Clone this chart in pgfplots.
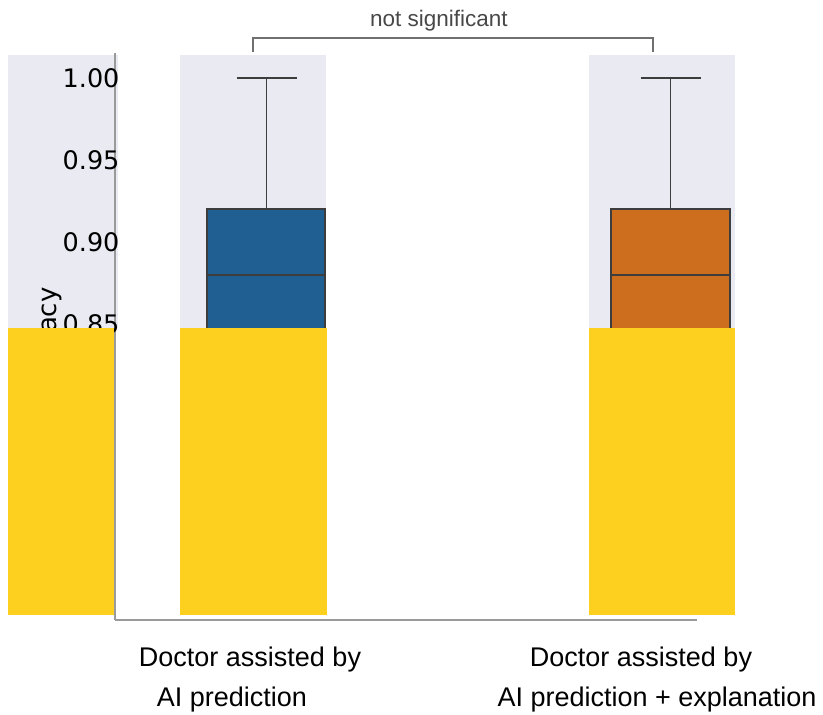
\documentclass[border=0pt]{standalone}
\usepackage{pgfplots}
\pgfplotsset{compat=1.18}
\usepackage{fontspec}
\setmainfont{Liberation Sans}
\newfontfamily\dejavu{DejaVu Sans}
\definecolor{bgstrip}{HTML}{EAEAF2}
\definecolor{yellowc}{HTML}{FDCF1E}
\definecolor{blueb}{HTML}{1F5F91}
\definecolor{orangeb}{HTML}{CD6E1E}
\definecolor{edgec}{HTML}{3D3D3D}
\definecolor{spine}{HTML}{9A9A9A}
\definecolor{bracketc}{HTML}{707070}
\definecolor{textgray}{HTML}{484848}
\begin{document}
\begin{tikzpicture}
\begin{axis}[
  at={(115pt,-620pt)}, anchor=south west,
  scale only axis, width=582pt, height=567pt,
  xmin=115, xmax=697, ymin=66.9512, ymax=101.5244,
  set layers, clip=false,
  axis lines=left,
  axis line style={-, draw=spine, line width=1.5pt},
  major tick length=0pt,
  ytick={85,90,95,100},
  yticklabels={0.85,0.90,0.95,1.00},
  yticklabel style={font=\dejavu\fontsize{25.5}{30}\selectfont, xshift=8pt},
  xtick={241,649},
  xticklabels={{\hspace*{18pt}Doctor assisted by\\AI prediction\hspace*{18pt}},{Doctor assisted by\hspace*{16pt}\\\hspace*{16pt}AI prediction + explanation}},
  xticklabel style={font=\fontsize{27}{40}\selectfont, align=center, inner sep=0pt, yshift=-27pt},
  ylabel={Accuracy},
  every axis y label/.style={at={(axis description cs:-0.0997,0.482)}, rotate=90, anchor=base, font=\dejavu\fontsize{26}{30}\selectfont},
]
% background strips
\addplot[fill=bgstrip, draw=none, mark=none, on layer=axis background] coordinates {(8,84.7561) (118,84.7561) (118,101.4024) (8,101.4024)};
\addplot[fill=bgstrip, draw=none, mark=none, on layer=axis background] coordinates {(180,84.7561) (326,84.7561) (326,101.4024) (180,101.4024)};
\addplot[fill=bgstrip, draw=none, mark=none, on layer=axis background] coordinates {(589,84.7561) (735,84.7561) (735,101.4024) (589,101.4024)};
% box 1: Doctor assisted by AI prediction (q1=0.80, median=0.88, q3=0.92, whiskers 0.72/1.00)
\addplot[fill=blueb, draw=edgec, line width=1.5pt, mark=none, line join=miter] coordinates {(207,80) (325,80) (325,92) (207,92) (207,80)};
\addplot[draw=edgec, line width=1.5pt, mark=none] coordinates {(207,88) (325,88)};
\addplot[draw=edgec, line width=1.5pt, mark=none] coordinates {(266.5,92) (266.5,100)};
\addplot[draw=edgec, line width=1.5pt, mark=none] coordinates {(236.5,100) (296.5,100)};
\addplot[draw=edgec, line width=1.5pt, mark=none] coordinates {(266.5,80) (266.5,72)};
\addplot[draw=edgec, line width=1.5pt, mark=none] coordinates {(236.5,72) (296.5,72)};
% box 2: Doctor assisted by AI prediction + explanation
\addplot[fill=orangeb, draw=edgec, line width=1.5pt, mark=none, line join=miter] coordinates {(611,80) (730,80) (730,92) (611,92) (611,80)};
\addplot[draw=edgec, line width=1.5pt, mark=none] coordinates {(611,88) (730,88)};
\addplot[draw=edgec, line width=1.5pt, mark=none] coordinates {(670.5,92) (670.5,100)};
\addplot[draw=edgec, line width=1.5pt, mark=none] coordinates {(640.5,100) (700.5,100)};
\addplot[draw=edgec, line width=1.5pt, mark=none] coordinates {(670.5,80) (670.5,72)};
\addplot[draw=edgec, line width=1.5pt, mark=none] coordinates {(640.5,72) (700.5,72)};
% yellow blocks
\addplot[fill=yellowc, draw=none, mark=none, on layer=axis foreground] coordinates {(8,67.2561) (114,67.2561) (114,84.7561) (8,84.7561)};
\addplot[fill=yellowc, draw=none, mark=none, on layer=axis foreground] coordinates {(180,67.2561) (326.5,67.2561) (326.5,84.7561) (180,84.7561)};
\addplot[fill=yellowc, draw=none, mark=none, on layer=axis foreground] coordinates {(589,67.2561) (735,67.2561) (735,84.7561) (589,84.7561)};
% bracket
\addplot[mark=none, draw=bracketc, line width=1.5pt] coordinates {(253,101.5854) (253,102.439) (653,102.439) (653,101.5854)};
\node[anchor=base, font=\fontsize{22.5}{27}\selectfont, text=textgray] at (axis cs:439,103.11) {not significant};
\end{axis}
\path (0,0) rectangle (823pt,-715pt);
\end{tikzpicture}
\end{document}
